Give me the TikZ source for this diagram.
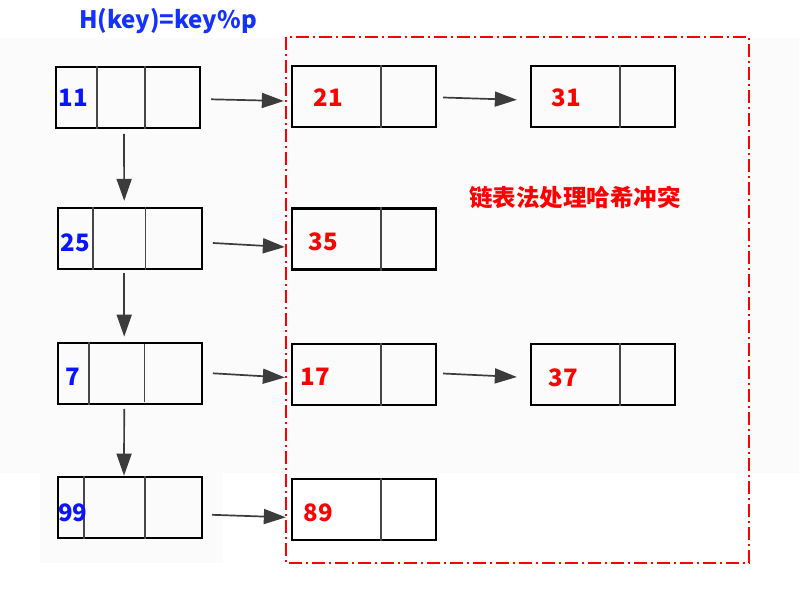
\documentclass[tikz,border=0pt]{standalone}
\usepackage{fontspec}
\newfontfamily\cjk{Noto Sans CJK SC}
\usetikzlibrary{arrows.meta}
\definecolor{kblue}{RGB}{10,20,255}
\definecolor{tblue}{RGB}{20,50,255}
\definecolor{kred}{RGB}{255,0,0}
\definecolor{arrgray}{RGB}{60,60,60}
\definecolor{divgray}{RGB}{70,70,70}
\definecolor{bggray}{RGB}{251,251,251}
\tikzset{
  cellbox/.style={draw=black, line width=2.3pt, minimum width=144pt, minimum height=61pt, inner sep=0pt},
  divline/.style={draw=divgray, line width=1.4pt},
  arr/.style={draw=arrgray, line width=1.7pt, -{Triangle[length=22pt,width=15pt]}},
  keyb/.style={text=kblue, font=\cjk\bfseries\fontsize{24}{28}\selectfont, inner sep=0pt},
  keyr/.style={text=kred, font=\cjk\bfseries\fontsize{24}{28}\selectfont, inner sep=0pt},
  groupbox/.style={draw=kred, line width=2pt, dash pattern=on 13pt off 4pt on 2pt off 4pt}
}
\begin{document}
\begin{tikzpicture}[x=1pt,y=-1pt]
\useasboundingbox (0,0) rectangle (799,588);
% faint background
\fill[bggray] (0,38) rectangle (799,473);
\fill[bggray] (40,473) rectangle (223,563);

% title
\node[text=tblue, font=\cjk\bfseries\fontsize{24}{30}\selectfont, inner sep=0pt] (title) at (168,21) {H(key)=key\%p};

% left column (hash table)
\node[cellbox] (L1) at (128,97.3) {};
\node[cellbox] (L2) at (129.7,238.5) {};
\node[cellbox] (L3) at (129.7,373.3) {};
\node[cellbox] (L4) at (130,507.3) {};

\draw[divline] ([xshift=42pt]L1.north west) -- ([xshift=42pt]L1.south west);
\draw[divline] ([xshift=90pt]L1.north west) -- ([xshift=90pt]L1.south west);
\draw[divline] ([xshift=36.3pt]L2.north west) -- ([xshift=36.3pt]L2.south west);
\draw[divline] ([xshift=89pt]L2.north west) -- ([xshift=89pt]L2.south west);
\draw[divline] ([xshift=32.3pt]L3.north west) -- ([xshift=32.3pt]L3.south west);
\draw[divline] ([shift={(88pt,-2pt)}]L3.north west) -- ([shift={(88pt,3pt)}]L3.south west);
\draw[divline] ([xshift=27pt]L4.north west) -- ([xshift=27pt]L4.south west);
\draw[divline] ([xshift=88pt]L4.north west) -- ([xshift=88pt]L4.south west);

\node[keyb] (k11) at (73,98) {11};
\node[keyb] (k25) at (75.5,242.5) {25};
\node[keyb] (k7) at (72.5,376.7) {7};
\node[keyb] (k99) at (72.7,513) {99};

% chained nodes
\node[cellbox] (B21) at (364,96.5) {};
\node[cellbox] (B31) at (603,96.3) {};
\node[cellbox] (B35) at (364,239) {};
\node[cellbox] (B17) at (364,374.5) {};
\node[cellbox] (B37) at (603,374.5) {};
\node[cellbox] (B89) at (364,509.3) {};

\foreach \b in {B21,B31,B35,B17,B37,B89}{
  \draw[divline] ([xshift=90pt]\b.north west) -- ([xshift=90pt]\b.south west);
}

\node[keyr] (k21) at (328,98) {21};
\node[keyr] (k31) at (566,98) {31};
\node[keyr] (k35) at (323,241.7) {35};
\node[keyr] (k17) at (315.5,376.7) {17};
\node[keyr] (k37) at (563,377.7) {37};
\node[keyr] (k89) at (318.3,513) {89};

% vertical arrows
\draw[arr] ([shift={(-4pt,-5pt)}]L1.south) -- ([shift={(-5.5pt,6pt)}]L2.north);
\draw[arr] ([shift={(-5.5pt,-3pt)}]L2.south) -- ([shift={(-5.5pt,5pt)}]L3.north);
\draw[arr] ([shift={(-5.5pt,-4pt)}]L3.south) -- ([shift={(-6pt,0pt)}]L4.north);

% horizontal arrows
\draw[arr] ([shift={(10pt,-2pt)}]L1.east) -- ([shift={(-7pt,-4.5pt)}]B21.west);
\draw[arr] ([shift={(6pt,-1pt)}]B21.east) -- ([shift={(-13pt,-3.5pt)}]B31.west);
\draw[arr] ([shift={(10pt,-4.5pt)}]L2.east) -- ([shift={(-6pt,-8pt)}]B35.west);
\draw[arr] ([shift={(10pt,0pt)}]L3.east) -- ([shift={(-6pt,-3pt)}]B17.west);
\draw[arr] ([shift={(6pt,1pt)}]B17.east) -- ([shift={(-13pt,-2.5pt)}]B37.west);
\draw[arr] ([shift={(9pt,-7.5pt)}]L4.east) -- ([shift={(-5pt,-8pt)}]B89.west);

% chain region
\draw[groupbox] (286,37) rectangle (749,563);
\node[text=kred, font=\cjk\bfseries\fontsize{23.5}{28}\selectfont, inner sep=0pt] (chainlabel) at (575,198) {链表法处理哈希冲突};
\end{tikzpicture}
\end{document}
